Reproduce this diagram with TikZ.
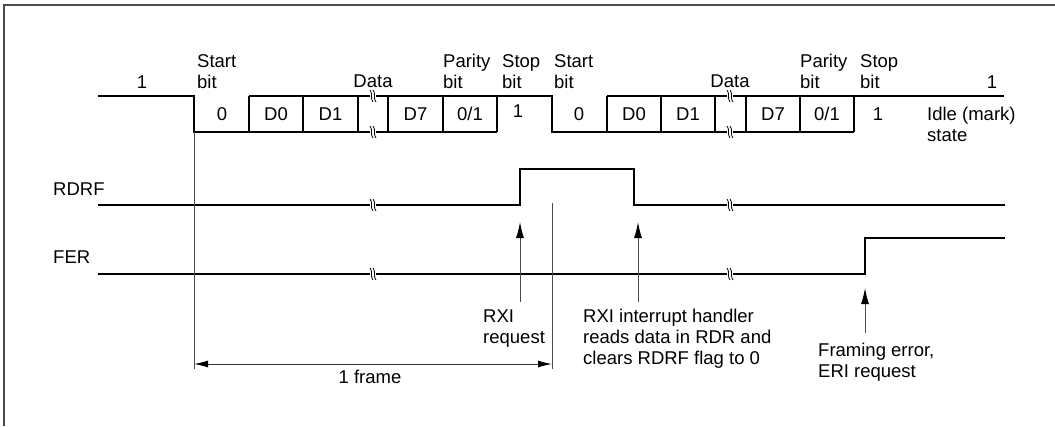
\documentclass[tikz,border=0pt]{standalone}
\usepackage{fontspec}
\setmainfont{Liberation Sans}
\usetikzlibrary{arrows.meta}
\tikzset{
  sig/.style={line width=1.4pt, black},
  guide/.style={line width=1pt, black!70},
  frm/.style={line width=1.3pt, black!70},
  upar/.style={line width=1pt, black!70, -{Latex[length=16pt,width=8pt,color=black]}},
  dimar/.style={line width=1pt, black!80, {Latex[length=14pt,width=7pt,color=black]}-{Latex[length=14pt,width=7pt,color=black]}},
  txt/.style={font=\fontsize{18.5}{22}\selectfont, inner sep=0pt, anchor=base},
  ltxt/.style={txt, anchor=base west},
}
\newcommand{\brk}[2]{%
  \fill[white] (#1-3,#2-5) rectangle (#1+3,#2+5);
  \draw[line width=0.8pt] (#1-3,#2-6) .. controls (#1,#2-3) and (#1-3,#2+3) .. (#1,#2+6);
  \draw[line width=0.8pt] (#1,#2-6) .. controls (#1+3,#2-3) and (#1,#2+3) .. (#1+3,#2+6);
}
\begin{document}
\begin{tikzpicture}[x=1pt,y=-1pt]
\useasboundingbox (0,0) rectangle (1055,426);
% outer frame (top and left edges visible)
\draw[frm] (1055,5) -- (4,5) -- (4,426);

% ---- serial line ----
\coordinate (s0) at (98,96);
\coordinate (f1) at (194,96);
% first frame
\draw[sig] (s0) -- (f1) -- (194,132) -- (497,132);
\draw[sig] (249,96) -- (497,96) -- (497,132);
\draw[sig] (497,96) -- (552,96) -- (552,132) -- (854,132);
\foreach \x in {249,303,358,388,443} \draw[sig] (\x,96) -- (\x,132);
% second frame
\draw[sig] (607,96) -- (1004,96);
\foreach \x in {607,661,715,746,800,854} \draw[sig] (\x,96) -- (\x,132);
\brk{373}{96}\brk{373}{132}\brk{730}{96}\brk{730}{132}

% texts on the line
\node[txt] (one1) at (142,88) {1};
\node[ltxt] (st1a) at (197,67) {Start};
\node[ltxt] (st1b) at (197,88) {bit};
\node[txt] (data1) at (373,87) {Data};
\node[ltxt] (pa1a) at (443,67) {Parity};
\node[ltxt] (pa1b) at (443,88) {bit};
\node[ltxt] (sp1a) at (502,67) {Stop};
\node[ltxt] (sp1b) at (502,88) {bit};
\node[ltxt] (st2a) at (554,67) {Start};
\node[ltxt] (st2b) at (554,88) {bit};
\node[txt] (data2) at (730,87) {Data};
\node[ltxt] (pa2a) at (800,67) {Parity};
\node[ltxt] (pa2b) at (800,88) {bit};
\node[ltxt] (sp2a) at (860,67) {Stop};
\node[ltxt] (sp2b) at (860,88) {bit};
\node[txt] (one2) at (992,88) {1};

\node[txt] (b0a) at (222,120) {0};
\node[txt] (b1a) at (276,120) {D0};
\node[txt] (b2a) at (330.5,120) {D1};
\node[txt] (b7a) at (415.5,120) {D7};
\node[txt] (bpa) at (470,120) {0/1};
\node[txt] (bsa) at (518,117) {1};
\node[txt] (b0b) at (579,120) {0};
\node[txt] (b1b) at (634,120) {D0};
\node[txt] (b2b) at (688,120) {D1};
\node[txt] (b7b) at (773,120) {D7};
\node[txt] (bpb) at (827,120) {0/1};
\node[txt] (bsb) at (878,120) {1};
\node[ltxt] (idle1) at (927,120) {Idle (mark)};
\node[ltxt] (idle2) at (927,141) {state};

% ---- RDRF ----
\node[ltxt] (rdrf) at (53,195) {RDRF};
\draw[sig] (98,205) -- (520,205) -- (520,169) -- (634,169) -- (634,205) -- (1005,205);
\brk{373}{205}\brk{730}{205}

% ---- FER ----
\node[ltxt] (fer) at (53,263) {FER};
\draw[sig] (98,274) -- (865,274) -- (865,238) -- (1005,238);
\brk{373}{274}\brk{730}{274}

% guide lines
\coordinate (g1t) at (194,132);
\coordinate (g1b) at (194,369);
\coordinate (g2t) at (552,203);
\coordinate (g2b) at (552,369);
\draw[guide] (g1t) -- (g1b);
\draw[guide] (g2t) -- (g2b);

% arrows
\coordinate (a1s) at (520,302);
\coordinate (a1e) at (520,222);
\coordinate (a2s) at (638,302);
\coordinate (a2e) at (638,222);
\coordinate (a3s) at (865,333);
\coordinate (a3e) at (865,288);
\draw[upar] (a1s) -- (a1e);
\draw[upar] (a2s) -- (a2e);
\draw[upar] (a3s) -- (a3e);

\coordinate (d1) at (194,364);
\coordinate (d2) at (552,364);
\draw[dimar] (d1) -- (d2);
\node[txt] (frame) at (370,383) {1 frame};

\node[ltxt] (rxi1) at (483,322) {RXI};
\node[ltxt] (rxi2) at (483,343) {request};
\node[ltxt] (h1) at (583,322) {RXI interrupt handler};
\node[ltxt] (h2) at (583,343) {reads data in RDR and};
\node[ltxt] (h3) at (583,364) {clears RDRF flag to 0};
\node[ltxt] (fe1) at (818,356) {Framing error,};
\node[ltxt] (fe2) at (818,377) {ERI request};
\end{tikzpicture}
\end{document}
